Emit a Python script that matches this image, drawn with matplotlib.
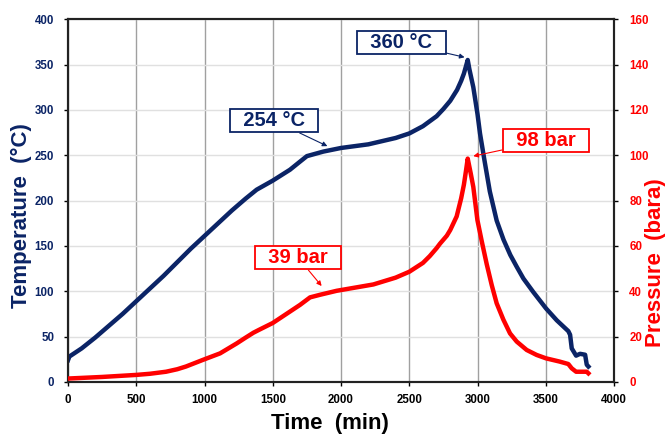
import matplotlib
matplotlib.use("Agg")
import matplotlib.pyplot as plt

plt.rcParams["font.family"] = ["Liberation Sans", "DejaVu Sans"]

NAVY = "#0b2466"
RED = "#ff0000"

# temperature curve (min, degC)
temp_t = [0, 10, 100, 200, 300, 400, 500, 600, 700, 800, 900, 1000, 1100,
          1200, 1300, 1382, 1500, 1626, 1700, 1750, 1870, 2000, 2200, 2400,
          2500, 2600, 2700, 2750, 2800, 2850, 2880, 2900, 2915, 2928, 2940,
          2969, 3000, 3018, 3050, 3090, 3140, 3190, 3240, 3287, 3336, 3409,
          3502, 3580, 3665, 3678, 3690, 3722, 3751, 3788, 3800, 3812]
temp_c = [24, 28, 37, 49, 62, 75, 89, 103, 117, 132, 147, 161, 175,
          189, 202, 212, 222, 234, 243, 249, 254, 258, 262, 269,
          274, 282, 293, 301, 310, 322, 332, 340, 348, 355, 345,
          325, 295, 274, 245, 210, 178, 157, 140, 127, 114, 99,
          81, 68, 56, 52, 37, 29, 31, 30, 19, 17]

# pressure curve (min, bara)
pres_t = [0, 250, 500, 600, 718, 800, 864, 987, 1114, 1236, 1300,
          1358, 1400, 1500, 1600, 1700, 1773, 1850, 1968, 2237, 2400, 2500,
          2600, 2650, 2700, 2725, 2775, 2800, 2847, 2880, 2900, 2915, 2928,
          2950, 2969, 2999, 3031, 3067, 3104, 3140, 3189, 3238, 3287, 3360,
          3433, 3502, 3600, 3665, 3690, 3722, 3800, 3812]
pres_b = [1.5, 2.2, 3.1, 3.6, 4.5, 5.6, 6.8, 9.7, 12.6, 17, 19.5,
          21.7, 23, 26, 30, 34, 37.3, 38.5, 40.2, 43, 46, 48.6,
          52.5, 55.5, 59, 61, 64.5, 67, 73, 81, 87, 93, 98.5,
          92, 86, 71.4, 62, 52, 42.7, 34.7, 27.5, 21.4, 17.8, 14.1,
          11.9, 10.4, 9, 7.9, 6, 4.5, 4.5, 3.8]

fig = plt.figure(figsize=(6.7, 4.36), dpi=100)
ax = fig.add_axes([0.1015, 0.124, 0.815, 0.832])
ax2 = ax.twinx()

ax.plot(temp_t, temp_c, color=NAVY, lw=3.2, solid_joinstyle="round", zorder=3)
ax2.plot(pres_t, pres_b, color=RED, lw=3.2, solid_joinstyle="round", zorder=3)

ax.set_xlim(0, 4000)
ax.set_ylim(0, 400)
ax2.set_ylim(0, 160)
ax.set_xticks(range(0, 4001, 500))
ax.set_yticks(range(0, 401, 50))
ax2.set_yticks(range(0, 161, 20))

ax.grid(axis="x", color="#a0a0a0", lw=1.0)
ax.grid(axis="y", color="#e0e0e0", lw=1.0)
ax.set_axisbelow(True)

for a in (ax, ax2):
    for s in a.spines.values():
        s.set_linewidth(1.5)
        s.set_color("#222222")

ax.tick_params(axis="x", length=3, width=1, labelsize=8.3, pad=6)
ax.tick_params(axis="y", length=3, width=1, labelsize=8.3, labelcolor=NAVY, pad=7)
ax2.tick_params(axis="y", length=3, width=1, labelsize=8.3, labelcolor=RED, pad=8)
for lab in ax.get_xticklabels() + ax.get_yticklabels() + ax2.get_yticklabels():
    lab.set_fontweight("bold")

ax.set_xlabel("Time  (min)", fontsize=16, fontweight="bold")
ax.xaxis.set_label_coords(0.48, -0.085)
ax.set_ylabel("Temperature  (°C)", fontsize=16, fontweight="bold", color=NAVY)
ax.yaxis.set_label_coords(-0.066, 0.46)
ax2.set_ylabel("Pressure  (bara)", fontsize=16, fontweight="bold", color=RED)
ax2.yaxis.set_label_coords(1.057, 0.33)


def label(a, txt, xy, xytext, col):
    a.annotate(txt, xy=xy, xytext=xytext, ha="center", va="center",
               fontsize=14.5, fontweight="bold", color=col, zorder=5,
               bbox=dict(boxstyle="square,pad=0.1", fc="white", ec=col, lw=1.3),
               arrowprops=dict(arrowstyle="-|>", color=col, lw=0.8,
                               mutation_scale=7, shrinkA=0, shrinkB=0))


label(ax, "  360 °C  ", (2905, 358), (2443, 374), NAVY)
label(ax, "  254 °C  ", (1900, 260), (1509, 288), NAVY)
label(ax2, "  98 bar  ", (2969, 99.6), (3498, 106.4), RED)
label(ax2, "  39 bar  ", (1858, 42.3), (1687, 54.7), RED)

fig.savefig("out.png", dpi=100)
